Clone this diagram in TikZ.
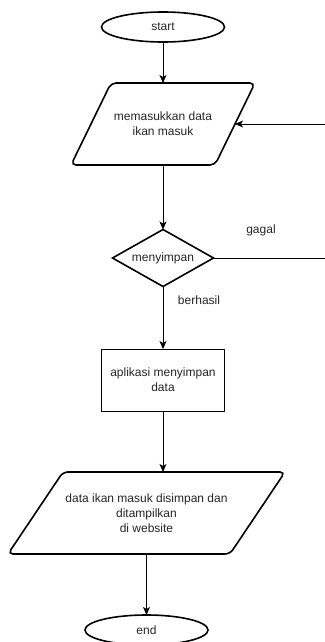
\documentclass[tikz,border=0pt]{standalone}
\usepackage{fontspec}
\setmainfont{Liberation Sans}
\usetikzlibrary{shapes.geometric,arrows.meta}

\begin{document}
\begin{tikzpicture}[x=1pt,y=-1pt,
  every node/.style={font=\fontsize{12}{15}\selectfont, text=black!85,
    inner sep=0pt, outer sep=0pt, align=center},
  terminal/.style={ellipse, draw=black, line width=1.6pt,
    minimum width=123pt, minimum height=30pt},
  iobox/.style={rectangle, minimum width=#1, minimum height=82pt},
  shapeline/.style={draw=black, line width=1.6pt, rounded corners=5pt},
  decision/.style={diamond, draw=black, line width=1.6pt,
    minimum width=101pt, minimum height=57pt, aspect=1.77},
  process/.style={rectangle, draw=black, line width=0.9pt,
    minimum width=123pt, minimum height=62pt},
  flow/.style={draw=black, line width=0.9pt,
    -{Stealth[length=8pt,width=7pt,inset=2pt]}},
  plain/.style={draw=black, line width=0.9pt},
]
\fill[white] (0,0) rectangle (324,642);
\useasboundingbox (0,0) rectangle (324,642);

% nodes
\node[terminal] (start) at (163,27) {start};
\node[iobox=184pt] (io1) at (163,124) {memasukkan data\\ ikan masuk};
\node[decision] (dec) at (163,258) {menyimpan};
\node[process] (proc) at (163,380) {aplikasi menyimpan\\ data};
\node[iobox=277pt] (io2) at (146.5,513) {data ikan masuk disimpan dan\\ ditampilkan\\ di website};
\node[terminal] (stop) at (146.5,630) {end};

% parallelogram outlines around the input/output nodes
\draw[shapeline] ([xshift=40pt]io1.north west) -- (io1.north east)
  -- ([xshift=-40pt]io1.south east) -- (io1.south west) -- cycle;
\draw[shapeline] ([xshift=55pt]io2.north west) -- (io2.north east)
  -- ([xshift=-55pt]io2.south east) -- (io2.south west) -- cycle;

% branch labels
\node (gagal) at (261,230) {gagal};
\node (berhasil) at (199,300) {berhasil};

% connectors
\draw[flow] (start) -- (io1);
\draw[flow] (io1) -- (dec);
\draw[flow] (dec) -- (proc);
\draw[flow] (proc.south) -- (proc.south |- io2.north);
\draw[flow] (io2) -- (stop);

% loop back on failure
\coordinate (back1) at (332,258);
\coordinate (back2) at (332,124);
\coordinate (io1r) at ([xshift=-20pt]io1.east);
\draw[plain] (dec.east) -- (back1) -- (back2);
\draw[flow] (back2) -- (io1r);
\end{tikzpicture}
\end{document}
